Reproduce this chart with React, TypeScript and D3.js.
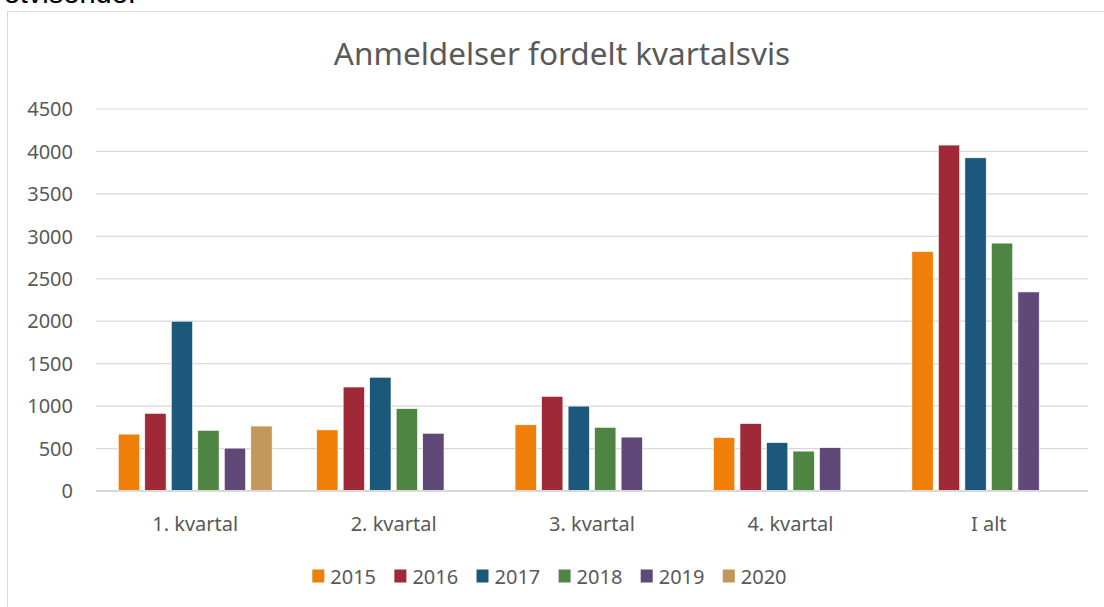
import React from 'react';
import * as d3 from 'd3';

const categories = ['1. kvartal', '2. kvartal', '3. kvartal', '4. kvartal', 'I alt'];
const years = ['2015', '2016', '2017', '2018', '2019', '2020'];
const v2015 = [670, 720, 780, 630, 2820];
const v2016 = [915, 1225, 1115, 795, 4075];
const v2017 = [2000, 1340, 1000, 570, 3925];
const v2018 = [715, 970, 750, 470, 2920];
const v2019 = [505, 680, 635, 510, 2345];
const v2020 = [765, null, null, null, null];
const series = [v2015, v2016, v2017, v2018, v2019, v2020];
const colors = ['#F07F09', '#9F2936', '#1B587C', '#4E8542', '#604878', '#C19859'];
const yTicks = [0, 500, 1000, 1500, 2000, 2500, 3000, 3500, 4000, 4500];

const W = 1104, H = 607;
const font = '"Noto Sans", "Open Sans", sans-serif';
const grey = '#595959';

export default function App() {
    const x0 = d3.scaleBand().domain(categories).range([96, 1088]).paddingInner(0).paddingOuter(0);
    const x1 = d3.scaleBand().domain(years).range([0, x0.bandwidth()]).paddingInner(0.196).paddingOuter(0.84);
    const y = d3.scaleLinear().domain([0, 4500]).range([491, 109]);

    return (
        <svg width={W} height={H} style={{ position: 'absolute', left: 0, top: 0 }} fontFamily={font}>
            <rect x={0} y={0} width={W} height={H} fill="#fff" />
            <text x={-6} y={3} fontSize={29} fill="#000" fontFamily='"Liberation Sans", sans-serif'>retvisende.</text>
            <rect x={7.5} y={11.5} width={W + 20} height={H + 20} fill="#fff" stroke="#d9d9d9" strokeWidth={1} />

            <text x={562} y={65} textAnchor="middle" fontSize={31.5} fill={grey}>Anmeldelser fordelt kvartalsvis</text>

            {yTicks.map(t => (
                <g key={t}>
                    {t > 0 && <line x1={96} x2={1088} y1={y(t)} y2={y(t)} stroke="#d9d9d9" strokeWidth={1.2} />}
                    <text x={73} y={y(t)} dy="0.36em" textAnchor="end" fontSize={20} fill={grey}>{t}</text>
                </g>
            ))}

            {categories.map((c, ci) => (
                <g key={c} transform={`translate(${x0(c)},0)`}>
                    {years.map((yr, si) => {
                        const v = series[si][ci];
                        if (v == null) return null;
                        return (
                            <rect key={yr} x={x1(yr)} y={y(v)} width={x1.bandwidth()} height={y(0) - y(v)}
                                fill={colors[si]} stroke="#fff" strokeWidth={0.6} />
                        );
                    })}
                    <text x={x0.bandwidth() / 2} y={531} textAnchor="middle" fontSize={20} fill={grey}>{c}</text>
                </g>
            ))}

            <line x1={96} x2={1088} y1={y(0)} y2={y(0)} stroke="#d9d9d9" strokeWidth={2} />

            {years.map((yr, i) => (
                <g key={yr} transform={`translate(${312.3 + i * 82.1},0)`}>
                    <rect x={0} y={569.5} width={12} height={13} fill={colors[i]} />
                    <text x={18} y={584} fontSize={20} fill={grey}>{yr}</text>
                </g>
            ))}
        </svg>
    );
}
